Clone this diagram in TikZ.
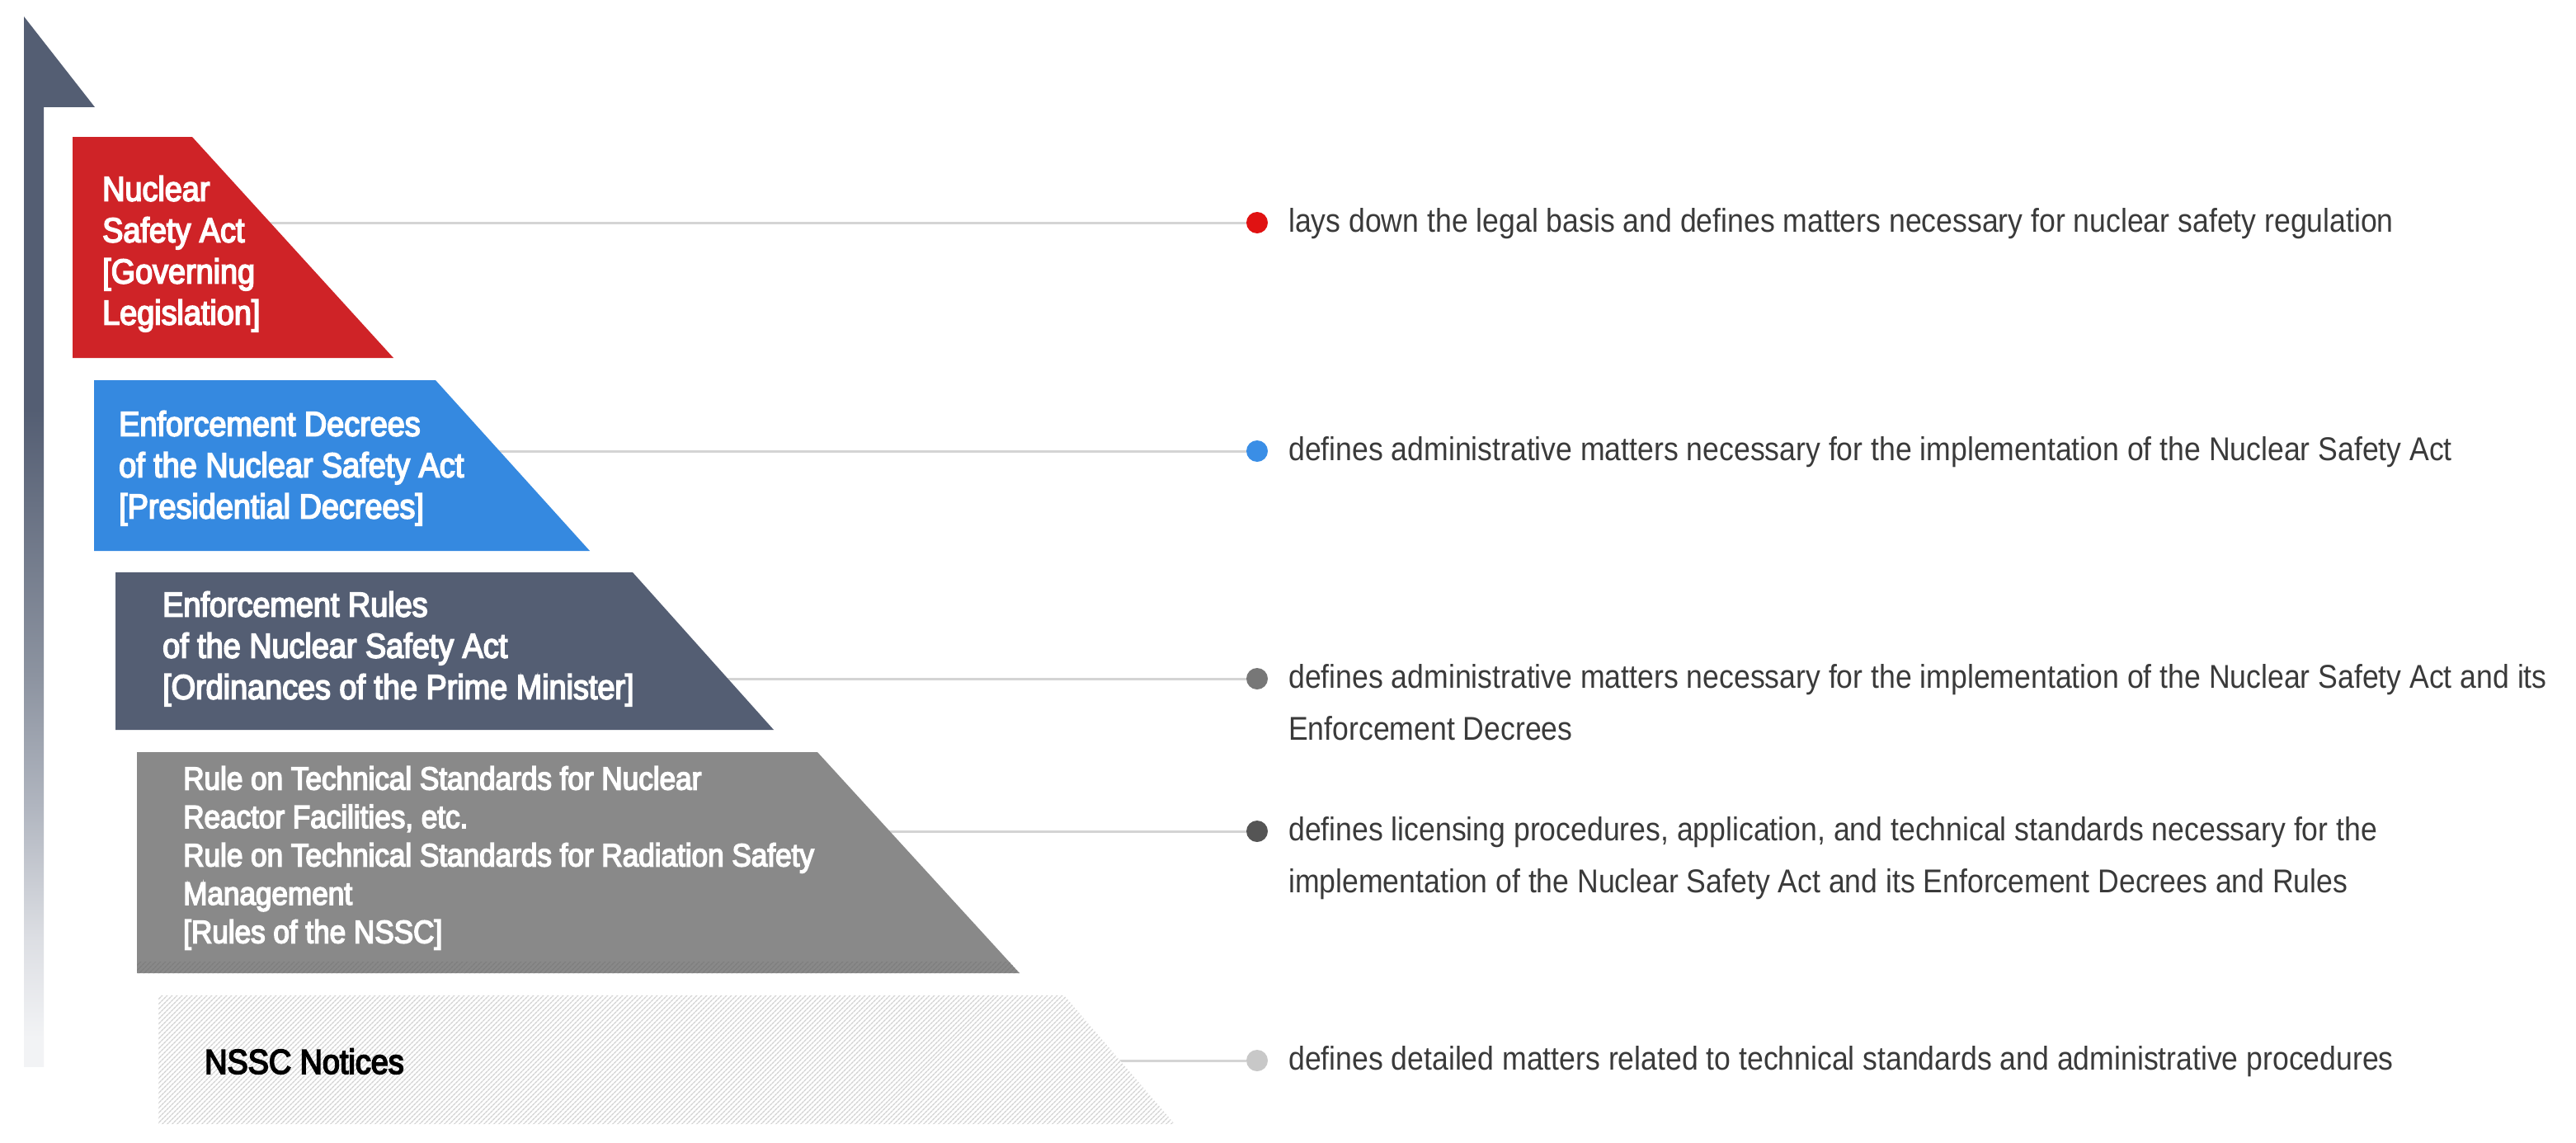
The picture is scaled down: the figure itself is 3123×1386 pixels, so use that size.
\documentclass[tikz,border=0pt]{standalone}
\usepackage{fontspec}
\setmainfont{Liberation Sans}
\newfontfamily\lblfont{Liberation Sans}[FakeStretch=0.9,FakeBold=4]
\newfontfamily\descfont{Liberation Sans}[FakeStretch=0.89]
\usetikzlibrary{patterns.meta}
\definecolor{slate}{HTML}{545E73}
\definecolor{fadeA}{HTML}{F2F3F5}
\definecolor{fadeB}{HTML}{DCDEE3}
\definecolor{fadeC}{HTML}{B0B5BF}
\definecolor{fadeD}{HTML}{8C93A0}
\definecolor{redbox}{HTML}{CF2327}
\definecolor{bluebox}{HTML}{3589E0}
\definecolor{greybox}{HTML}{898989}
\definecolor{greyhatch}{HTML}{7E7E7E}
\definecolor{hatchc}{HTML}{D2D2D2}
\definecolor{connc}{HTML}{D4D4D4}
\definecolor{desctext}{HTML}{3A3A3A}
\definecolor{dotred}{HTML}{E01212}
\definecolor{dotblue}{HTML}{3A8EE6}
\definecolor{dotgrey}{HTML}{777777}
\definecolor{dotdark}{HTML}{555555}
\definecolor{dotlight}{HTML}{C8C8C8}
\pgfdeclareverticalshading{arrowfade}{100bp}{color(0bp)=(fadeA); color(26.5bp)=(fadeA); color(31.7bp)=(fadeB); color(38.6bp)=(fadeC); color(45.4bp)=(fadeD); color(59.2bp)=(slate); color(100bp)=(slate)}
\begin{document}
\begin{tikzpicture}[x=1pt,y=-1pt,
  dot/.style={circle,minimum size=26pt,inner sep=0pt,draw=none},
  conn/.style={draw=connc,line width=3pt},
  desc/.style={font=\descfont\fontsize{40}{63}\selectfont,text=desctext,inner sep=0pt,align=left},
  lbl/.style={font=\lblfont\fontsize{42}{50}\selectfont,text=white,inner sep=0pt,align=left},
  lblsmall/.style={font=\lblfont\fontsize{39}{46.5}\selectfont,text=white,inner sep=0pt,align=left}]
\useasboundingbox (0,0) rectangle (3123,1386);
\fill[white] (0,0) rectangle (3123,1386);
% arrow
\fill[slate] (29,20) -- (115,130) -- (29,130) -- cycle;
\shade[shading=arrowfade] (29,129) rectangle (53,1293);
% dots
\node[dot,fill=dotred]   (d1) at (1524,270) {};
\node[dot,fill=dotblue]  (d2) at (1524,547) {};
\node[dot,fill=dotgrey]  (d3) at (1524,823) {};
\node[dot,fill=dotdark]  (d4) at (1524,1008) {};
\node[dot,fill=dotlight] (d5) at (1524,1286) {};
% connectors
\coordinate (c1) at (300,270);
\coordinate (c2) at (500,547);
\coordinate (c3) at (700,823);
\coordinate (c4) at (900,1008);
\coordinate (c5) at (1300,1286);
\draw[conn] (c1) -- (d1);
\draw[conn] (c2) -- (d2);
\draw[conn] (c3) -- (d3);
\draw[conn] (c4) -- (d4);
\draw[conn] (c5) -- (d5);
% shapes
\fill[redbox]  (88,166) -- (233,166) -- (477,434) -- (88,434) -- cycle;
\fill[bluebox] (114,461) -- (528,461) -- (715,668) -- (114,668) -- cycle;
\fill[slate]   (140,694) -- (767,694) -- (938,885) -- (140,885) -- cycle;
\fill[greybox] (166,912) -- (991,912) -- (1236,1180) -- (166,1180) -- cycle;
\begin{scope}
  \clip (166,912) -- (991,912) -- (1236,1180) -- (166,1180) -- cycle;
  \fill[pattern={Lines[angle=45,distance=4pt,line width=1.4pt]},pattern color=greyhatch]
    (166,1166) rectangle (1240,1180);
\end{scope}
\fill[white]   (192,1207) -- (1290,1207) -- (1424,1363) -- (192,1363) -- cycle;
\fill[pattern={Lines[angle=45,distance=4pt,line width=1.5pt]},pattern color=hatchc]
  (192,1207) -- (1290,1207) -- (1424,1363) -- (192,1363) -- cycle;
% labels
\node[lbl,anchor=north west] (l1) at (124,213) {Nuclear\\Safety Act\\{[}Governing\\Legislation{]}};
\node[lbl,anchor=north west] (l2) at (144,498) {Enforcement Decrees\\of the Nuclear Safety Act\\{[}Presidential Decrees{]}};
\node[lbl,anchor=north west] (l3) at (197,717) {Enforcement Rules\\of the Nuclear Safety Act\\{[}Ordinances of the Prime Minister{]}};
\node[lblsmall,anchor=north west] (l4) at (222,929) {Rule on Technical Standards for Nuclear\\Reactor Facilities, etc.\\Rule on Technical Standards for Radiation Safety\\Management\\{[}Rules of the NSSC{]}};
\node[lbl,text=black,anchor=base west] (l5) at (248,1302) {NSSC Notices};
% descriptions
\node[desc,anchor=base west] (t1) at (1562,281) {lays down the legal basis and defines matters necessary for nuclear safety regulation};
\node[desc,anchor=base west] (t2) at (1562,558) {defines administrative matters necessary for the implementation of the Nuclear Safety Act};
\node[desc,anchor=north west] (t3) at (1562,805) {defines administrative matters necessary for the implementation of the Nuclear Safety Act and its\\Enforcement Decrees};
\node[desc,anchor=north west] (t4) at (1562,990) {defines licensing procedures, application, and technical standards necessary for the\\implementation of the Nuclear Safety Act and its Enforcement Decrees and Rules};
\node[desc,anchor=base west] (t5) at (1562,1297) {defines detailed matters related to technical standards and administrative procedures};
\end{tikzpicture}
\end{document}
